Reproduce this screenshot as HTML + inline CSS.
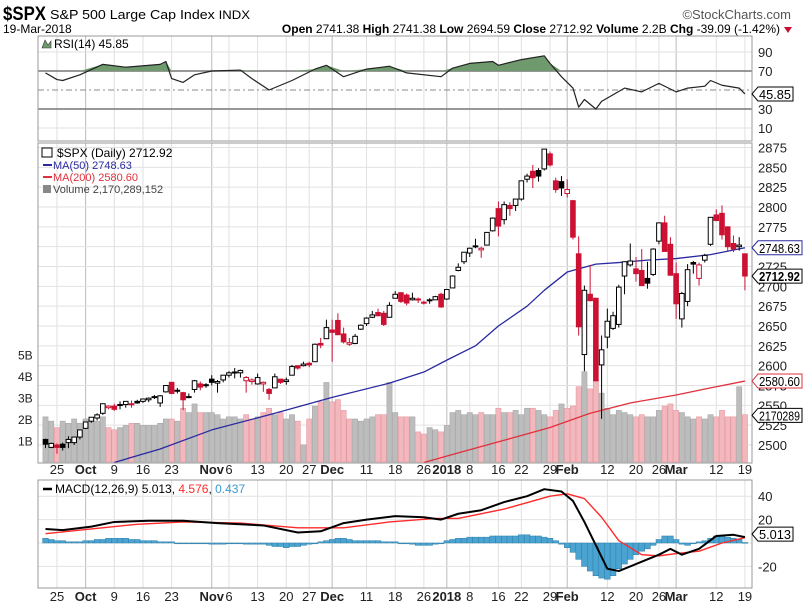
<!DOCTYPE html>
<html><head><meta charset="utf-8">
<style>
html,body{margin:0;padding:0;background:#fff;}
svg{display:block;font-family:"Liberation Sans",sans-serif;}
</style></head>
<body>
<svg id="chart" width="803" height="609" viewBox="0 0 803 609" xmlns="http://www.w3.org/2000/svg">
<text x="3" y="20" font-size="19" font-weight="bold" fill="#000" textLength="43" lengthAdjust="spacingAndGlyphs">$SPX</text>
<text x="50" y="19" font-size="13" fill="#000" textLength="200" lengthAdjust="spacingAndGlyphs">S&amp;P 500 Large Cap Index <tspan font-size="12">INDX</tspan></text>
<text x="791" y="19" font-size="13" fill="#555" text-anchor="end">©StockCharts.com</text>
<text x="3" y="33" font-size="12" fill="#000">19-Mar-2018</text>
<text x="780" y="33" font-size="12" fill="#000" text-anchor="end"><tspan font-weight="bold">Open</tspan> 2741.38 <tspan font-weight="bold">High</tspan> 2741.38 <tspan font-weight="bold">Low</tspan> 2694.59 <tspan font-weight="bold">Close</tspan> 2712.92 <tspan font-weight="bold">Volume</tspan> 2.2B <tspan font-weight="bold">Chg</tspan> -39.09 (-1.42%)</text>
<path d="M784,27 L792,27 L788,33 Z" fill="#c8102e"/>
<g id="g"></g>
</svg>
<script>
// ---- data ----
const dates = ["Sep21","Sep22","Sep25","Sep26","Sep27","Sep28","Sep29","Oct2","Oct3","Oct4","Oct5","Oct6","Oct9","Oct10","Oct11","Oct12","Oct13","Oct16","Oct17","Oct18","Oct19","Oct20","Oct23","Oct24","Oct25","Oct26","Oct27","Oct30","Oct31","Nov1","Nov2","Nov3","Nov6","Nov7","Nov8","Nov9","Nov10","Nov13","Nov14","Nov15","Nov16","Nov17","Nov20","Nov21","Nov22","Nov24","Nov27","Nov28","Nov29","Nov30","Dec1","Dec4","Dec5","Dec6","Dec7","Dec8","Dec11","Dec12","Dec13","Dec14","Dec15","Dec18","Dec19","Dec20","Dec21","Dec22","Dec26","Dec27","Dec28","Dec29","Jan2","Jan3","Jan4","Jan5","Jan8","Jan9","Jan10","Jan11","Jan12","Jan16","Jan17","Jan18","Jan19","Jan22","Jan23","Jan24","Jan25","Jan26","Jan29","Jan30","Jan31","Feb1","Feb2","Feb5","Feb6","Feb7","Feb8","Feb9","Feb12","Feb13","Feb14","Feb15","Feb16","Feb20","Feb21","Feb22","Feb23","Feb26","Feb27","Feb28","Mar1","Mar2","Mar5","Mar6","Mar7","Mar8","Mar9","Mar12","Mar13","Mar14","Mar15","Mar16","Mar19"];
const opens = [2507,2497,2500,2501,2503,2503,2510,2521,2530,2534,2540,2547,2549,2550,2551,2552,2555,2555,2557,2560,2553,2567,2579,2568,2566,2561,2570,2577,2576,2583,2578,2582,2588,2592,2591,2581,2580,2577,2577,2570,2572,2583,2580,2588,2600,2600,2603,2605,2628,2634,2645,2657,2640,2627,2628,2646,2653,2661,2667,2666,2661,2685,2692,2689,2683,2684,2679,2682,2683,2690,2684,2698,2720,2731,2742,2751,2746,2752,2770,2798,2784,2802,2802,2810,2835,2845,2846,2848,2867,2833,2832,2817,2808,2741,2614,2690,2685,2601,2636,2647,2652,2713,2727,2722,2720,2710,2715,2757,2780,2753,2716,2659,2681,2730,2710,2733,2753,2790,2792,2775,2754,2750,2741];
const highs = [2508,2503,2502,2503,2511,2510,2519,2529,2535,2540,2552,2550,2552,2555,2555,2556,2557,2558,2560,2563,2563,2575,2579,2572,2567,2565,2582,2580,2578,2588,2582,2588,2593,2597,2595,2587,2584,2590,2580,2572,2590,2583,2585,2601,2600,2605,2605,2628,2635,2658,2658,2666,2648,2635,2640,2652,2661,2669,2672,2669,2680,2694,2692,2691,2692,2686,2682,2685,2688,2692,2696,2714,2729,2743,2749,2760,2750,2768,2787,2807,2807,2806,2810,2833,2842,2853,2849,2873,2870,2837,2839,2835,2809,2763,2701,2727,2685,2638,2672,2668,2702,2731,2754,2737,2747,2731,2748,2780,2789,2762,2730,2693,2728,2732,2730,2741,2787,2797,2802,2775,2764,2762,2741];
const lows = [2496,2496,2489,2493,2496,2500,2507,2520,2528,2531,2538,2545,2543,2545,2547,2547,2552,2553,2554,2558,2548,2566,2564,2565,2544,2559,2566,2569,2572,2575,2566,2579,2585,2584,2585,2566,2576,2576,2567,2557,2572,2577,2576,2588,2595,2599,2598,2605,2622,2634,2605,2639,2628,2625,2627,2645,2650,2660,2662,2650,2661,2685,2679,2676,2682,2679,2677,2678,2683,2673,2683,2698,2719,2728,2737,2748,2736,2752,2769,2763,2778,2789,2795,2808,2831,2824,2832,2846,2851,2818,2814,2812,2759,2638,2593,2681,2580,2533,2622,2645,2648,2690,2725,2706,2701,2697,2713,2753,2744,2714,2659,2648,2675,2716,2701,2730,2751,2782,2759,2744,2743,2745,2695];
const closes = [2501,2502,2497,2497,2507,2510,2519,2529,2535,2538,2552,2549,2545,2551,2555,2551,2553,2558,2559,2561,2562,2575,2565,2569,2557,2560,2581,2573,2575,2579,2580,2588,2591,2591,2594,2585,2582,2585,2579,2565,2586,2579,2582,2599,2597,2602,2601,2627,2626,2648,2642,2639,2630,2629,2637,2651,2660,2664,2663,2652,2676,2690,2681,2679,2685,2683,2680,2683,2687,2674,2696,2713,2724,2743,2748,2751,2748,2768,2786,2776,2803,2798,2810,2833,2839,2837,2839,2873,2853,2822,2824,2822,2762,2649,2695,2682,2581,2620,2656,2663,2699,2731,2732,2716,2701,2704,2747,2780,2744,2714,2678,2691,2721,2728,2727,2739,2787,2783,2765,2750,2747,2752,2713];
const volumes = [2.1,1.9,1.6,1.9,1.8,2.0,1.8, 2.0,1.9,1.9,2.1,1.6,1.5,1.6,1.7,1.8,1.8,1.7,1.7,1.7,1.8,2.0,2.0,1.9,2.5,2.3,2.7,2.3,2.3, 2.3,2.2,2.0,2.1,2.1,2.0,2.2,2.0,2.1,2.3,2.5,2.2,2.3,2.0,2.2,1.9,0.8,2.0,2.6,2.8,3.7, 2.8,2.9,2.4,2.0,2.0,1.9,2.0,2.1,2.2,2.2,3.7,2.3,2.1,2.1,2.1,1.4,1.3,1.6,1.5,1.4, 1.7,2.3,2.4,2.2,2.3,2.2,2.3,2.2,2.2,2.5,2.3,2.3,2.4,2.2,2.5,2.5,2.4,2.2,2.1,2.4,2.7, 2.5,2.6,3.5,4.2,3.4,3.8,3.2,2.5,2.2,2.4,2.3,2.2,2.1,2.2,2.1,2.1,2.4,2.6,2.7, 2.4,2.3,2.1,2.0,2.1,2.0,2.2,2.1,2.4,2.1,2.1,3.5,2.2];
const ma50Idx = [12,20,29,40,50,60,66,70,75,79,84,87,91,96,100,105,110,116,122];
const ma50Val = [2478,2495,2519,2540,2560,2578,2592,2607,2625,2650,2675,2695,2718,2728,2730,2733,2735,2740,2748.63];
const ma200Idx = [66,72,80,88,95,102,110,116,122];
const ma200Val = [2478,2490,2506,2522,2540,2553,2563,2572,2580.6];
const rsiIdx = [0,2,3,6,10,14,20,21,22,24,26,29,34,36,39,41,43,47,49,52,56,60,63,69,71,74,78,79,83,87,88,90,92,93,94,96,97,99,101,104,107,110,112,115,116,118,121,122];
const rsiVal = [68,61,60,66,77,74,77,80,62,58,66,70,71,62,50,55,60,72,76,64,72,75,68,64,73,78,80,76,82,86,78,64,52,32,40,30,38,45,52,48,57,48,52,54,60,55,52,45.85];
const macdIdx = [0,3,8,12,18,24,30,38,44,48,52,56,61,66,69,72,76,80,84,87,90,92,94,96,98,100,104,107,109,111,114,117,120,122];
const macdVal = [12,11,14,18,19,19,17,15,9,10,17,20,23,22,20,25,28,35,40,46,44,36,18,-2,-22,-24,-16,-10,-5,-10,-5,6,7,5.013];
const sigIdx = [0,8,16,24,34,44,52,60,68,72,80,88,91,94,97,100,104,107,110,114,118,122];
const sigVal = [8,12,16,18,17,13,13,18,21,21,29,40,42,38,22,2,-10,-11,-9,-7,0,4.576];
const hist = [4,3,2,2,1,1,1, 2,2,3,3,4,4,4,4,3,3,2,2,2,1,1,1,0,0,0,0,0,0, -1,-1,-1,0,0,0,-1,-1,-1,-1,-2,-3,-3,-4,-3,-3,-2,-1,0,1,2, 3,4,4,3,2,2,2,2,2,1,1,1,0,0,-1,-2,-2,-2,-1,0, 2,3,4,4,5,5,5,5,6,6,6,6,6,7,7,6,6,5,4,2,-1, -4,-8,-14,-20,-24,-28,-30,-31,-28,-22,-18,-14,-10,-7,-5,-2,3,6,6, 3,-1,-2,0,1,2,4,6,6,5,4,3,0.437];
const priceTicks = [2500,2525,2550,2575,2600,2625,2650,2675,2700,2725,2750,2775,2800,2825,2850,2875];
const volTicks = [1,2,3,4,5];
const rsiTicks = [10,30,70,90];
const macdTicks = [-20,20,40];
const xTickIdx = [2,7,12,17,22,29,32,37,42,46,50,56,61,66,70,74,79,83,88,91,98,103,107,110,117,122];
const xTickLab = ["25","Oct","9","16","23","Nov","6","13","20","27","Dec","11","18","26","2018","8","16","22","29","Feb","12","20","26","Mar","12","19"];
const xTickMajor = [0,1,0,0,0,1,0,0,0,0,1,0,0,0,1,0,0,0,0,1,0,0,0,1,0,0];

// ---- scales ----
const L=38,R=752;
const x = i => 45.5 + i*5.733;
const yP = p => 445 - (p-2500)*0.7933;
const yV = v => 462 - v*21.5;
const yR = v => 71 + (70-v)*0.95;
const yM = v => 543 - v*1.17;
const NS="http://www.w3.org/2000/svg";
const g=document.getElementById('g');
function mk(tag,attrs,parent){const e=document.createElementNS(NS,tag);for(const k in attrs)e.setAttribute(k,attrs[k]);(parent||g).appendChild(e);return e;}
function txt(s,attrs,parent){const e=mk('text',attrs,parent);e.textContent=s;return e;}

const panels=[[36,141,'rsi-panel'],[143,463,'price-panel'],[480,588,'macd-panel']];
panels.forEach(p=>{
  const r=mk('rect',{x:L,y:p[0],width:R-L,height:p[1]-p[0],fill:'#fff',stroke:'none'});
  
  
});
xTickIdx.forEach((idx,k)=>{
  panels.forEach(p=>{
    const l=mk('line',{x1:x(idx),x2:x(idx),y1:p[0],y2:p[1],stroke:xTickMajor[k]?'#bbb':'#e0e0e0','stroke-width':1});
    
    
  });
});
priceTicks.forEach(t=>{
  const l=mk('line',{x1:L,x2:R,y1:yP(t),y2:yP(t),stroke:'#e2e2e2'});
  
  
  const tx=txt(String(t),{x:758,y:yP(t)+5,'font-size':13,fill:'#222'});
  
  
});
volTicks.forEach(t=>{
  const tx=txt(t+'B',{x:18,y:yV(t)+5,'font-size':12,fill:'#222'});
  
  
});
[10,30,50,70,90].forEach(t=>{
  const strong=(t==30||t==70);
  const l=mk('line',{x1:L,x2:R,y1:yR(t),y2:yR(t),stroke:strong?'#777':(t==50?'#888':'#e2e2e2'),'stroke-width':strong?1.5:1,'stroke-dasharray':t==50?'6,3,2,3':'none'});
  
  
});
rsiTicks.forEach(t=>{
  const tx=txt(String(t),{x:758,y:yR(t)+5,'font-size':13,fill:'#222'});
  
  
});
[-20,0,20,40].forEach(t=>{
  const l=mk('line',{x1:L,x2:R,y1:yM(t),y2:yM(t),stroke:'#e2e2e2'});
  
  
});
macdTicks.forEach(t=>{
  const tx=txt(String(t),{x:758,y:yM(t)+5,'font-size':13,fill:'#222'});
  
  
});
[474,601].forEach(yy=>{
  xTickIdx.forEach((idx,k)=>{
    const tx=txt(xTickLab[k],{x:x(idx),y:yy,'font-size':13,'font-weight':xTickMajor[k]?'bold':'normal',fill:'#222','text-anchor':'middle'});
    
    
  });
});

volumes.forEach((v,i)=>{
  const down=i>0&&closes[i]<closes[i-1];
  const b=mk('rect',{x:x(i)-2.6,y:yV(v),width:5.2,height:462-yV(v),fill:down?'#f2b8bd':'#bdbdbd',stroke:down?'#e59aa1':'#a8a8a8','stroke-width':0.6});
  
  
});
function poly(idxs,vals,yf,color,name,w){
  const pts=idxs.map((d,k)=>x(d)+','+yf(vals[k])).join(' ');
  const p=mk('polyline',{points:pts,fill:'none',stroke:color,'stroke-width':w||1.3,'stroke-linejoin':'round'});
  
  
  return p;
}
poly(ma50Idx,ma50Val,yP,'#2a2aa0','ma50-line');
poly(ma200Idx,ma200Val,yP,'#e0303c','ma200-line');
closes.forEach((c,i)=>{
  const o=opens[i];
  const down=i>0&&c<closes[i-1];
  const col=down?'#cc1133':'#000';
  const w=mk('line',{x1:x(i),x2:x(i),y1:yP(highs[i]),y2:yP(lows[i]),stroke:col,'stroke-width':1});
  
  
  const top=yP(Math.max(o,c)),bot=yP(Math.min(o,c));
  const hollow=c>=o;
  const b=mk('rect',{x:x(i)-2.3,y:top,width:4.6,height:Math.max(1,bot-top),fill:hollow?'#fff':col,stroke:col,'stroke-width':1});
  
  
});
{
  const pts=rsiIdx.map((d,k)=>[x(d),yR(rsiVal[k])]);
  const y70=yR(70);
  let dstr='M'+pts[0][0]+','+y70;
  pts.forEach(p=>{dstr+=' L'+p[0]+','+Math.min(p[1],y70);});
  dstr+=' L'+pts[pts.length-1][0]+','+y70+' Z';
  const f=mk('path',{d:dstr,fill:'#6e9a6e',stroke:'none'});
  
  
  poly(rsiIdx,rsiVal,yR,'#222','rsi-line',1.2);
}
hist.forEach((h,i)=>{
  const y0=yM(0),y1=yM(h);
  const b=mk('rect',{x:x(i)-2.9,y:Math.min(y0,y1),width:5.8,height:Math.max(0.8,Math.abs(y1-y0)),fill:'#4aa3d0',stroke:'#2d7fa8','stroke-width':0.5});
  
  
});
poly(sigIdx,sigVal,yM,'#ff2a2a','macd-signal-line',1.4);
poly(macdIdx,macdVal,yM,'#000','macd-line',2);

panels.forEach(p=>{
  const r=mk('rect',{x:L,y:p[0],width:R-L,height:p[1]-p[0],fill:'none',stroke:'#999','stroke-width':1});
  
  
});

function legend(s,xx,yy,color,name,size){const t=txt(s,{x:xx,y:yy,'font-size':size||12,fill:color});return t;}
legend('RSI(14) 45.85',54,48,'#000','rsi-legend',12);
mk('path',{d:'M42,48 L45,40 L48,45 L51,41 L51,48 Z',fill:'#6e9a6e',stroke:'#333','stroke-width':0.6});
legend('$SPX (Daily) 2712.92',57,157,'#000','price-legend',12);
legend('MA(50) 2748.63',53,169,'#2a2aa0','ma50-legend',11);
legend('MA(200) 2580.60',53,181,'#e0303c','ma200-legend',11);
legend('Volume 2,170,289,152',53,193,'#444','volume-legend',11);
mk('line',{x1:43,x2:52,y1:165,y2:165,stroke:'#2a2aa0','stroke-width':2});
mk('line',{x1:43,x2:52,y1:177,y2:177,stroke:'#e0303c','stroke-width':2});
mk('rect',{x:43,y:185,width:8,height:8,fill:'#888'});
mk('rect',{x:42,y:148,width:10,height:9,fill:'none',stroke:'#000'});
{
  const t=txt('',{x:55,y:493,'font-size':12,fill:'#000'});
  
  
  t.innerHTML='MACD(12,26,9) 5.013, <tspan fill="#ff2a2a">4.576</tspan>, <tspan fill="#3a9ad0">0.437</tspan>';
  mk('line',{x1:43,x2:52,y1:489,y2:489,stroke:'#000','stroke-width':2.5});
}

function tag(s,yy,color,name,bold,w){
  const W=w||44;
  const p=mk('path',{d:`M752,${yy} L758,${yy-7} L${758+W},${yy-7} L${758+W},${yy+7} L758,${yy+7} Z`,fill:'#fff',stroke:color,'stroke-width':1});
  
  
  const t=txt(s,{x:759,y:yy+5,'font-size':13,'font-weight':bold?'bold':'normal',fill:'#000',textLength:W-3,lengthAdjust:'spacingAndGlyphs'});
  
  
}
tag('45.85',yR(45.85),'#000','rsi-value-tag',false,35);
tag('2748.63',yP(2748.63),'#2a2aa0','ma50-value-tag',false);
tag('2712.92',yP(2712.92),'#000','close-value-tag',true);
tag('2580.60',yP(2580.6),'#e0303c','ma200-value-tag',false);
tag('2170289',yV(2.17),'#000','volume-value-tag',false);
tag('5.013',yM(5.013)-3,'#000','macd-value-tag',false,35);
</script>
</body></html>
